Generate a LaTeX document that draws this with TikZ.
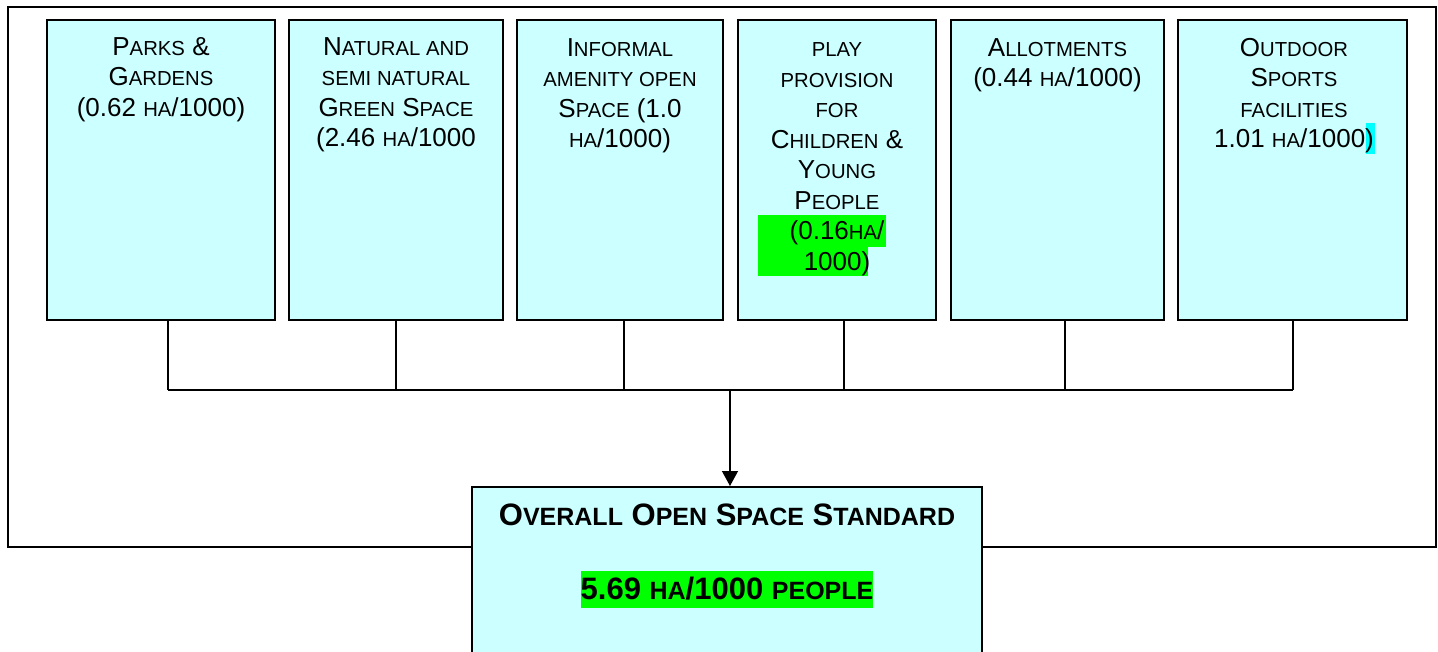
\documentclass[tikz,border=0pt]{standalone}
\usepackage{fontspec}
\setmainfont{Liberation Sans}
\usetikzlibrary{arrows.meta}
\definecolor{boxfill}{HTML}{CCFFFF}
\definecolor{hlgreen}{HTML}{00FF00}
\definecolor{hlcyan}{HTML}{00FFFF}
\newcommand\smc[1]{{\fontsize{20.3}{30.5}\selectfont #1}}
\newcommand\smcb[1]{{\fontsize{25}{30}\selectfont #1}}
\newcommand\firststrut{\rule{0pt}{20pt}}
\tikzset{
  catbox/.style={draw=black, line width=1.6pt, fill=boxfill, inner sep=0pt},
  cattext/.style={anchor=north, inner sep=0pt, align=center,
    font=\fontsize{26}{30.5}\selectfont},
  bigtext/.style={anchor=base, inner sep=0pt, font=\fontsize{31}{36}\selectfont\bfseries},
  conn/.style={draw=black, line width=1.3pt},
}
\begin{document}
\begin{tikzpicture}[x=1pt,y=-1pt]
\useasboundingbox (0,0) rectangle (1438,651);
\clip (0,0) rectangle (1438,651);
% outer frame
\draw[line width=1.5pt] (8,7) rectangle (1436,547);
% category boxes
\node[catbox, minimum width=228pt, minimum height=300pt] (b1) at (161,170) {};
\node[catbox, minimum width=214pt, minimum height=300pt] (b2) at (396,170) {};
\node[catbox, minimum width=206pt, minimum height=300pt] (b3) at (620,170) {};
\node[catbox, minimum width=198pt, minimum height=300pt] (b4) at (837,170) {};
\node[catbox, minimum width=213pt, minimum height=300pt] (b5) at (1057.5,170) {};
\node[catbox, minimum width=229pt, minimum height=300pt] (b6) at (1292.5,170) {};
% highlights
\fill[hlgreen] (758,215) rectangle (886,246.5);
\fill[hlgreen] (758,246) rectangle (868,276);
\fill[hlcyan] (1366,123) rectangle (1375,154);
% texts
\node[cattext] (t1) at (161,35) {\firststrut P\smc{ARKS} \&\\G\smc{ARDENS}\\(0.62 \smc{HA}/1000)};
\node[cattext] (t2) at (396,35) {\firststrut N\smc{ATURAL AND}\\\smc{SEMI NATURAL}\\G\smc{REEN} S\smc{PACE}\\(2.46 \smc{HA}/1000};
\node[cattext] (t3) at (620,36) {\firststrut I\smc{NFORMAL}\\\smc{AMENITY OPEN}\\S\smc{PACE} (1.0\\\smc{HA}/1000)};
\node[cattext] (t4) at (837,36.5) {\firststrut \smc{PLAY}\\\smc{PROVISION}\\\smc{FOR}\\C\smc{HILDREN} \&\\Y\smc{OUNG}\\P\smc{EOPLE}\\(0.16\smc{HA}/\\1000)};
\node[cattext] (t5) at (1057.5,36) {\firststrut A\smc{LLOTMENTS}\\(0.44 \smc{HA}/1000)};
\node[cattext] (t6) at (1294,36) {\firststrut O\smc{UTDOOR}\\S\smc{PORTS}\\\smc{FACILITIES}\\1.01 \smc{HA}/1000)};
% bus connectors
\coordinate (j1) at (168,390);
\coordinate (j2) at (396,390);
\coordinate (j3) at (624,390);
\coordinate (j4) at (844,390);
\coordinate (j5) at (1065,390);
\coordinate (j6) at (1293,390);
\coordinate (jm) at (730,390);
\draw[conn] (j1 |- b1.south) -- (j1);
\draw[conn] (j2 |- b2.south) -- (j2);
\draw[conn] (j3 |- b3.south) -- (j3);
\draw[conn] (j4 |- b4.south) -- (j4);
\draw[conn] (j5 |- b5.south) -- (j5);
\draw[conn] (j6 |- b6.south) -- (j6);
\draw[conn] (j1) -- (j6);
% overall box
\node[catbox, minimum width=510pt, minimum height=200pt, anchor=north] (ov) at (727,486) {};
\draw[conn, -{Triangle[width=16pt,length=15pt]}] (jm) -- (jm |- ov.north);
\fill[hlgreen] (581,571) rectangle (873,608);
\node[bigtext] (ovt) at (727,525) {O\smcb{VERALL} O\smcb{PEN} S\smcb{PACE} S\smcb{TANDARD}};
\node[bigtext] (ovv) at (727,599) {5.69 \smcb{HA}/1000 \smcb{PEOPLE}};
\end{tikzpicture}
\end{document}
